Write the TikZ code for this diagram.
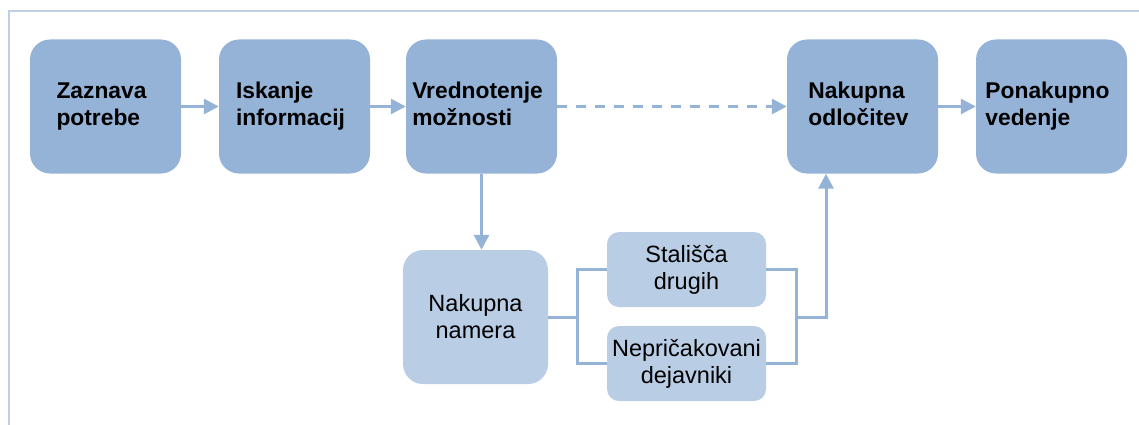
\documentclass[tikz,border=0pt]{standalone}
\usepackage{fontspec}
\setmainfont{Liberation Sans}
\usetikzlibrary{arrows.meta}

\definecolor{stepdark}{HTML}{95B3D7}
\definecolor{steplight}{HTML}{B9CDE5}
\definecolor{framecol}{HTML}{BDD0E7}

% two left-aligned lines, block nudged slightly to the left
\newcommand{\stagetext}[2]{\begin{tabular}{@{}l@{\hspace{8pt}}}#1\\#2\end{tabular}}

\tikzset{
  mainbox/.style={fill=stepdark, rounded corners=20pt, minimum width=151pt,
    minimum height=134pt, inner sep=0pt,
    font=\fontsize{22.8}{27}\selectfont\bfseries},
  sidebox/.style={fill=steplight, rounded corners=#1, inner sep=0pt,
    align=center, font=\fontsize{23.5}{27}\selectfont},
  link/.style={draw=stepdark, line width=3pt},
  arr/.style={link, -{Triangle[length=15pt, width=15pt]}},
  framebar/.style={draw=framecol, line width=2.5pt},
}

\begin{document}
\begin{tikzpicture}[x=1pt, y=-1pt]
  \useasboundingbox (0,0) rectangle (1139,425);

  % frame along the top and left edges
  \draw[framebar] (9,425) -- (9,11) -- (1139,11);

  % main stages
  \node[mainbox] (b1) at (105.5,106.5) {\stagetext{Zaznava}{potrebe}};
  \node[mainbox] (b2) at (294.5,106.5) {\stagetext{Iskanje}{informacij}};
  \node[mainbox] (b3) at (481.5,106.5) {\stagetext{Vrednotenje}{možnosti}};
  \node[mainbox] (b4) at (862.5,106.5) {\stagetext{Nakupna}{odločitev}};
  \node[mainbox] (b5) at (1051.5,106.5) {\stagetext{Ponakupno}{vedenje}};

  % intermediate stage and influencing factors
  \node[sidebox=20pt, minimum width=145pt, minimum height=134pt] (n1) at (475.5,317) {Nakupna\\namera};
  \node[sidebox=12pt, minimum width=159pt, minimum height=75pt] (s1) at (686.5,269.5) {Stališča\\drugih};
  \node[sidebox=12pt, minimum width=159pt, minimum height=75pt] (s2) at (686.5,363.5) {Nepričakovani\\dejavniki};

  % junction points of the brackets
  \coordinate (jl) at (577,317);
  \coordinate (jr) at (796,317);
  \coordinate (od) at ([xshift=-36.5pt]b4.south);

  % top row flow
  \draw[arr] (b1) -- (b2);
  \draw[arr] (b2) -- (b3);
  \draw[arr, dash pattern=on 10pt off 9pt] (b3) -- (b4);
  \draw[arr] (b4) -- (b5);

  % down to purchase intention
  \draw[arr] (b3.south) -- (b3.south |- n1.north);

  % bracket around the factors
  \draw[link] (n1.east |- jl) -- (jl);
  \draw[link] (s1.west) -- (jl |- s1.west) -- (jl |- s2.west) -- (s2.west);
  \draw[link] (s1.east) -- (jr |- s1.east) -- (jr |- s2.east) -- (s2.east);
  \draw[arr] (jr) -| (od);
\end{tikzpicture}
\end{document}
